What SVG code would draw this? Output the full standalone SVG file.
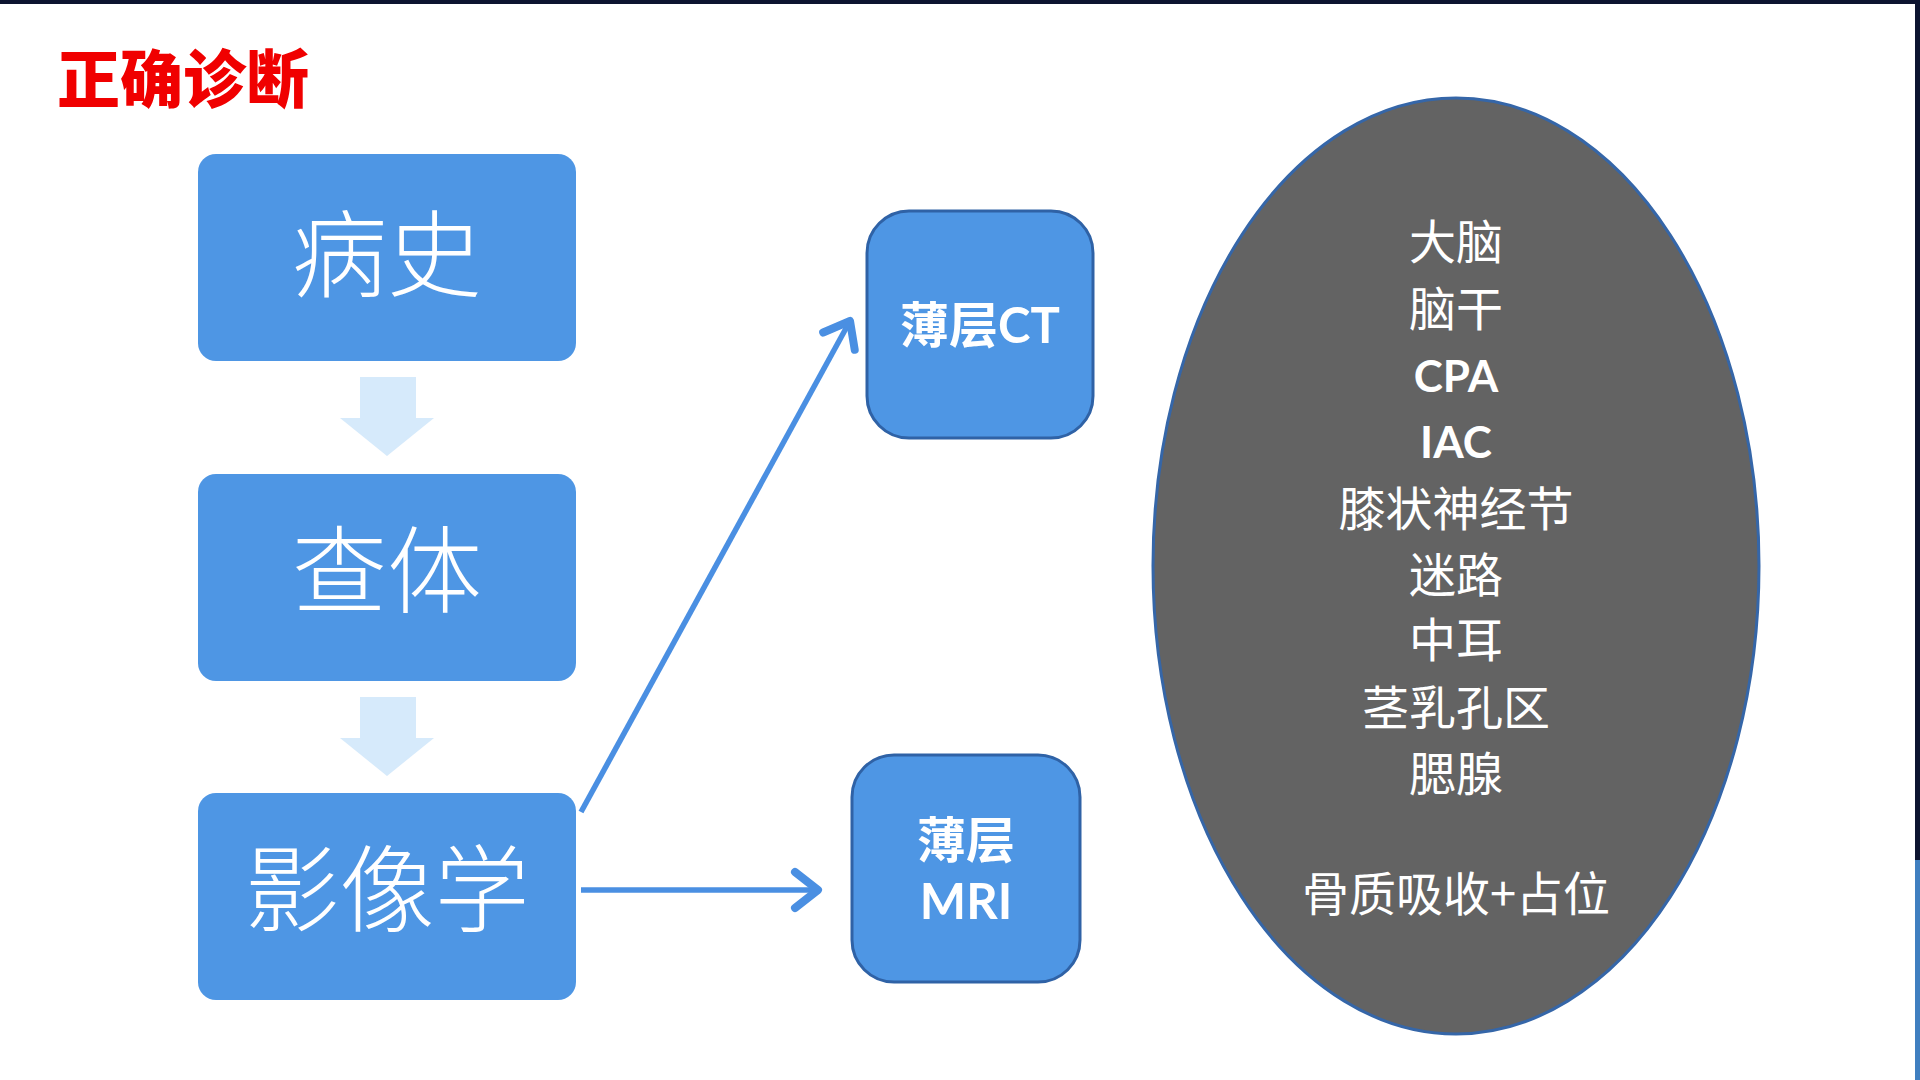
<svg xmlns="http://www.w3.org/2000/svg" width="1920" height="1080" viewBox="0 0 1920 1080">
<style>
.box{fill:#4e96e4;}
.box2{fill:#4e96e4;stroke:#2f62a6;stroke-width:3;}
.big{font-family:"Noto Sans CJK SC",sans-serif;font-size:95px;fill:#ffffff;text-anchor:middle;font-weight:300;}
.mid{font-family:"Lato","Noto Sans CJK SC",sans-serif;font-size:49px;fill:#ffffff;text-anchor:middle;font-weight:700;}
.ell{font-family:"Noto Sans CJK SC",sans-serif;font-size:47px;fill:#ffffff;text-anchor:middle;}
.ellb{font-family:"Lato","Noto Sans CJK SC",sans-serif;font-size:44px;fill:#ffffff;text-anchor:middle;font-weight:700;}
.down{fill:#d6eafb;}
.conn{stroke:#4a8fe2;stroke-width:5.5;fill:none;marker-end:url(#chev);}
</style>
<defs>
<marker id="chev" markerUnits="userSpaceOnUse" viewBox="-30 -24 36 48" refX="0" refY="0" markerWidth="36" markerHeight="48" orient="auto" overflow="visible">
<path d="M -23,-18 L 0,0 L -23,18" fill="none" stroke="#4a8fe2" stroke-width="8" stroke-linecap="round" stroke-linejoin="round"/>
</marker>
</defs>
<rect x="0" y="0" width="1920" height="1080" fill="#ffffff"/>
<rect x="0" y="0" width="1920" height="4" fill="#0d1430"/>
<rect x="1915" y="0" width="5" height="1080" fill="#0d1430"/>
<rect x="1915" y="860" width="5" height="220" fill="#3f7fc0"/>
<text x="57" y="102" font-family="'Noto Sans CJK SC',sans-serif" font-size="63" font-weight="900" fill="#f00000">正确诊断</text>
<g id="node-bingshi">
<rect class="box" x="198" y="154" width="378" height="207" rx="18"/>
<text class="big" x="387" y="290">病史</text>
</g>
<g id="down1"><path class="down" d="M360,377 H416 V418 H434 L387,456 L340,418 H360 Z"/></g>
<g id="node-chati">
<rect class="box" x="198" y="474" width="378" height="207" rx="18"/>
<text class="big" x="387" y="606">查体</text>
</g>
<g id="down2"><path class="down" d="M360,697 H416 V738 H434 L387,776 L340,738 H360 Z"/></g>
<g id="node-yingxiang">
<rect class="box" x="198" y="793" width="378" height="207" rx="18"/>
<text class="big" x="387" y="925">影像学</text>
</g>
<g id="node-ct">
<rect class="box2" x="867" y="211" width="226" height="227" rx="42"/>
<text class="mid" x="980" y="343">薄层CT</text>
</g>
<g id="node-mri">
<rect class="box2" x="852" y="755" width="228" height="227" rx="42"/>
<text class="mid" x="966" y="858">薄层</text>
<text class="mid" x="966" y="919">MRI</text>
</g>
<g id="connectors">
<line class="conn" x1="581" y1="812" x2="850" y2="321"/>
<line class="conn" x1="581" y1="890" x2="818" y2="890"/>
</g>
<g id="node-ellipse">
<ellipse cx="1456" cy="566" rx="303" ry="468" fill="#636363" stroke="#3566a8" stroke-width="3"/>
<text class="ell" x="1456" y="259">大脑</text>
<text class="ell" x="1456" y="326">脑干</text>
<text class="ellb" x="1456" y="392">CPA</text>
<text class="ellb" x="1456" y="458">IAC</text>
<text class="ell" x="1456" y="526">膝状神经节</text>
<text class="ell" x="1456" y="592">迷路</text>
<text class="ell" x="1456" y="657">中耳</text>
<text class="ell" x="1456" y="725">茎乳孔区</text>
<text class="ell" x="1456" y="791">腮腺</text>
<text class="ell" x="1456" y="911">骨质吸收+占位</text>
</g>
</svg>
